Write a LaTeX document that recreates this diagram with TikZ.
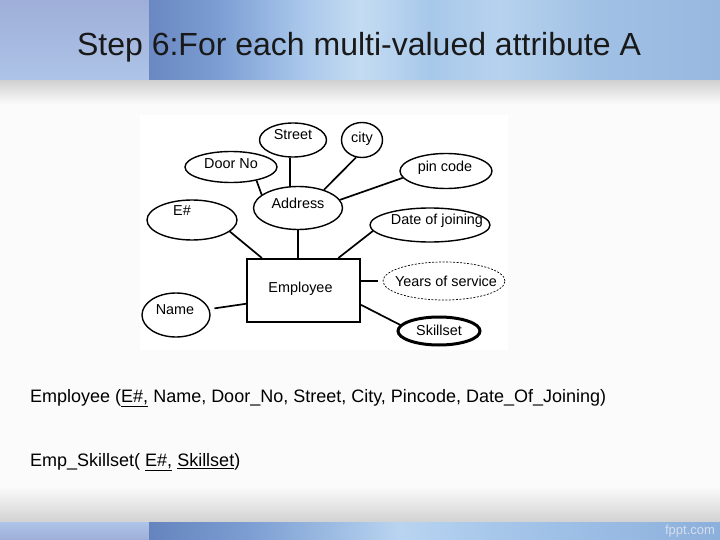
\documentclass[tikz,border=0pt]{standalone}
\usepackage{fontspec}
\setmainfont{Liberation Sans}
\usetikzlibrary{shapes.geometric,calc}
\definecolor{hA}{HTML}{6A88C2}
\definecolor{hB}{HTML}{7C9ED4}
\definecolor{hC}{HTML}{A8C6EA}
\definecolor{hD}{HTML}{C4DCF2}
\definecolor{hE}{HTML}{A8C8EA}
\definecolor{hF}{HTML}{B6D2EE}
\definecolor{hG}{HTML}{A0C0E4}
\definecolor{hH}{HTML}{98B8E0}
\definecolor{fA}{HTML}{6584BE}
\definecolor{fB}{HTML}{7C9ED2}
\definecolor{fC}{HTML}{B8D4F0}
\definecolor{fD}{HTML}{A6C6EA}
\definecolor{fE}{HTML}{8CB0DC}
\definecolor{panelTop}{HTML}{9EAED8}
\definecolor{panelBot}{HTML}{AEC4E8}
\definecolor{slidebg}{HTML}{FBFBFB}
\definecolor{shadowgray}{HTML}{D2D2D2}
\definecolor{wmark}{HTML}{D6DEEC}
\pgfdeclarehorizontalshading{hdrR}{100bp}{color(0bp)=(hA); color(25bp)=(hA); color(31.2bp)=(hB); color(38.2bp)=(hC); color(43.5bp)=(hD); color(49.6bp)=(hE); color(55.7bp)=(hF); color(64.5bp)=(hG); color(75bp)=(hH); color(100bp)=(hH)}
\pgfdeclarehorizontalshading{ftrR}{100bp}{color(0bp)=(fA); color(25bp)=(fA); color(33.8bp)=(fB); color(46.9bp)=(fC); color(55.7bp)=(fD); color(75bp)=(fE); color(100bp)=(fE)}
\newfontfamily\diagfont{Liberation Sans}
\tikzset{
  attr/.style={ellipse,draw,line width=1.4pt,inner sep=0pt},
  lbl/.style={font=\diagfont\fontsize{14.4}{16}\selectfont,inner sep=0pt},
  conn/.style={line width=1.7pt},
  body/.style={font=\fontsize{18}{22}\selectfont,anchor=west,inner sep=0pt}
}
\begin{document}
\begin{tikzpicture}[x=1pt,y=-1pt]
\useasboundingbox (0,0) rectangle (720,540);
% slide background
\fill[slidebg] (0,0) rectangle (720,540);
% header
\shade[top color=panelTop,bottom color=panelBot] (0,0) rectangle (149,81);
\shade[shading=hdrR] (149,0) rectangle (720,81);
\shade[top color=shadowgray,bottom color=slidebg] (0,81) rectangle (720,104);
% footer
\shade[top color=slidebg,bottom color=shadowgray] (0,486) rectangle (720,522);
\shade[top color=panelBot,bottom color=panelTop] (0,522) rectangle (149,540);
\shade[shading=ftrR] (149,522) rectangle (720,540);
\node[font=\fontsize{13}{15}\selectfont,text=wmark,inner sep=0pt] (wm) at (690,531) {fppt.com};
% title
\node[font=\fontsize{32}{38}\selectfont,text=black!90,inner sep=0pt] (title) at (359,47) {Step 6:For each multi-valued attribute A};
% diagram area
\fill[white] (140,115) rectangle (508,350);
\node[attr,minimum width=67pt,minimum height=34pt,label={[lbl,yshift=5pt]center:Street}] (street) at (293,140) {};
\node[attr,minimum width=41pt,minimum height=35pt,label={[lbl,yshift=1pt]center:city}] (city) at (362,140) {};
\node[attr,minimum width=92pt,minimum height=31pt,label={[lbl,yshift=3pt]center:Door No}] (door) at (231,167) {};
\node[attr,minimum width=92pt,minimum height=35pt,label={[lbl,xshift=-1pt,yshift=3pt]center:pin code}] (pin) at (446,171) {};
\node[attr,minimum width=89pt,minimum height=43pt,label={[lbl,yshift=5pt]center:Address}] (addr) at (298,208) {};
\node[attr,minimum width=90pt,minimum height=40pt,label={[lbl,xshift=-10pt,yshift=9pt]center:E\#}] (eno) at (192,220) {};
\node[attr,minimum width=120pt,minimum height=34pt,label={[lbl,xshift=7pt,yshift=4pt]center:Date of joining}] (date) at (430,225) {};
\node[draw,line width=2pt,minimum width=113pt,minimum height=63pt,inner sep=0pt,label={[lbl,xshift=-3pt,yshift=2pt]center:Employee}] (emp) at (303.5,290.5) {};
\node[attr,line width=0.7pt,dash pattern=on 2pt off 1.5pt,minimum width=122pt,minimum height=38pt,label={[lbl,xshift=2pt]center:Years of service}] (yrs) at (444,281) {};
\node[attr,minimum width=68pt,minimum height=44pt,label={[lbl,xshift=-1pt,yshift=5pt]center:Name}] (name) at (176,315) {};
\node[attr,line width=3pt,minimum width=82pt,minimum height=28pt,label={[lbl,yshift=1pt]center:Skillset}] (skill) at (439,331) {};
% connectors
\draw[conn] (door.-28) -- (addr.160);
\draw[conn] (street.-100) -- (addr.110.7);
\draw[conn] (city.-109) -- (addr.35);
\draw[conn] (pin.189) -- (addr.11);
\draw[conn] (eno.-17) -- (emp.142);
\draw[conn] (addr.south) -- (addr.south |- emp.north);
\draw[conn] (date.186) -- (emp.43);
\draw[conn,shorten >=5pt] (emp.east |- yrs.west) -- (yrs.west);
\draw[conn,shorten <=5pt] (name.10) -- (emp.193);
\draw[conn] (emp.-14) -- (skill.171);
% relational schema text
\node[body] (rel1) at (30,398) {Employee (\underline{E\#,} Name, Door\_No, Street, City, Pincode, Date\_Of\_Joining)};
\node[body] (rel2) at (30,462) {Emp\_Skillset( \underline{E\#,} \underline{Skillset})};
\end{tikzpicture}
\end{document}
